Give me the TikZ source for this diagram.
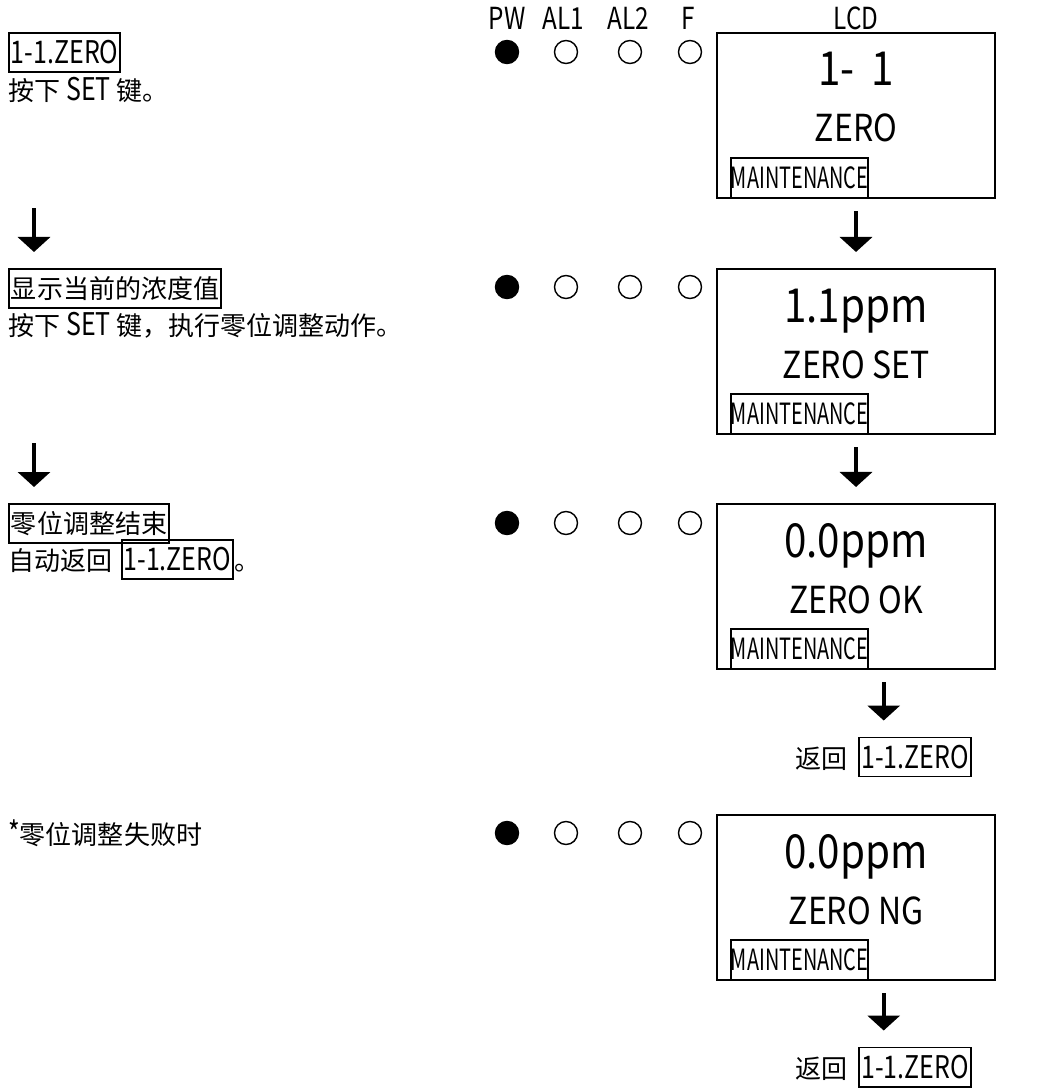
\documentclass[tikz,border=0pt]{standalone}
\usepackage{fontspec}
\setmainfont{Noto Sans CJK SC}
\newfontfamily\lat[Scale=1.2,FakeStretch=0.8]{Noto Sans CJK SC}
\newfontfamily\latn[Scale=1.3,FakeStretch=0.68]{Noto Sans CJK SC}
\newfontfamily\lcdfont[Scale=1.15,FakeStretch=0.86]{Noto Sans CJK SC}
\usetikzlibrary{arrows.meta,positioning,calc}

\begin{document}
\begin{tikzpicture}[
    x=0.025cm, y=-0.025cm,
    font=\fontsize{18.5pt}{22pt}\selectfont,
    lcd/.style={rectangle, draw, line width=1.4pt, minimum width=6.95cm, minimum height=4.125cm, anchor=north, inner sep=0pt},
    tag/.style={rectangle, draw, line width=1.4pt, minimum height=0.975cm, inner xsep=0.05cm, inner ysep=0pt},
    maint/.style={rectangle, draw, line width=1.4pt, minimum width=3.4cm, minimum height=1cm, inner sep=0pt, anchor=south west, font=\fontsize{16pt}{20pt}\selectfont\latn},
    lcdmain/.style={anchor=base, inner sep=0pt, font=\fontsize{29pt}{32pt}\selectfont\lcdfont},
    lcdsub/.style={anchor=base, inner sep=0pt, font=\fontsize{23pt}{26pt}\selectfont\lcdfont},
    ledhead/.style={inner sep=0pt, font=\fontsize{18pt}{20pt}\selectfont\lat},
    led/.style={circle, draw, line width=1pt, minimum size=0.575cm, inner sep=0pt},
    ledon/.style={led, fill=black},
    txt/.style={anchor=west, inner sep=0pt},
    arrow/.style={-{Triangle[width=0.8cm,length=0.375cm]}, line width=3pt},
    link/.style={arrow, shorten <=0.3cm, shorten >=0.4cm}
]
\useasboundingbox (0,0) rectangle (1042,1090);

% lamp and display headings
\node[ledhead] (hpw) at (507,18) {PW};
\node[ledhead] (hal1) at (563,18) {AL1};
\node[ledhead] (hal2) at (628,18) {AL2};
\node[ledhead] (hf) at (688,18) {F};
\node[ledhead] (hlcd) at (856,18) {LCD};

% step 1
\node[tag, anchor=north west] (title1) at (8,32) {\lat 1-1.ZERO};
\node[txt] (desc1) at (8,90) {按下 {\lat SET} 键。};
\node[ledon] (pw1) at (507,52) {};
\node[led] (al11) at (566,52) {};
\node[led] (al21) at (630,52) {};
\node[led] (f1) at (690,52) {};
\node[lcd] (lcd1) at (856,32) {};
\node[lcdmain] (val1) at ($(lcd1.north)+(0,54)$) {1-\, 1};
\node[lcdsub] (msg1) at ($(lcd1.north)+(0,110)$) {ZERO};
\node[maint] (mt1) at ($(lcd1.south west)+(14,0)$) {MAINTENANCE};

% step 2
\node[tag, anchor=north west] (title2) at (8,268) {显示当前的浓度值};
\node[txt] (desc2) at (8,325) {按下 {\lat SET} 键，执行零位调整动作。};
\node[ledon] (pw2) at (507,287) {};
\node[led] (al12) at (566,287) {};
\node[led] (al22) at (630,287) {};
\node[led] (f2) at (690,287) {};
\node[lcd] (lcd2) at (856,268) {};
\node[lcdmain] (val2) at ($(lcd2.north)+(0,54)$) {1.1ppm};
\node[lcdsub] (msg2) at ($(lcd2.north)+(0,110)$) {ZERO SET};
\node[maint] (mt2) at ($(lcd2.south west)+(14,0)$) {MAINTENANCE};

% step 3
\node[tag, anchor=north west] (title3) at (8,503) {零位调整结束};
\node[txt] (desc3) at (8,561) {自动返回};
\node[tag, anchor=base west] (ret3) at ($(desc3.base east)+(8,0)$) {\lat 1-1.ZERO};
\node[anchor=base west, inner sep=0pt] (end3) at (ret3.base east) {。};
\node[ledon] (pw3) at (507,523) {};
\node[led] (al13) at (566,523) {};
\node[led] (al23) at (630,523) {};
\node[led] (f3) at (690,523) {};
\node[lcd] (lcd3) at (856,503) {};
\node[lcdmain] (val3) at ($(lcd3.north)+(0,54)$) {0.0ppm};
\node[lcdsub] (msg3) at ($(lcd3.north)+(0,110)$) {ZERO OK};
\node[maint] (mt3) at ($(lcd3.south west)+(14,0)$) {MAINTENANCE};
\node[tag] (back1) at (915,757) {\lat 1-1.ZERO};
\node[anchor=base east, inner sep=0pt] (backlbl1) at ($(back1.base west)+(-10,0)$) {返回};

% failure case
\node[txt] (title4) at (8,833) {{\lat *}零位调整失败时};
\node[ledon] (pw4) at (507,833) {};
\node[led] (al14) at (566,833) {};
\node[led] (al24) at (630,833) {};
\node[led] (f4) at (690,833) {};
\node[lcd] (lcd4) at (856,814) {};
\node[lcdmain] (val4) at ($(lcd4.north)+(0,54)$) {0.0ppm};
\node[lcdsub] (msg4) at ($(lcd4.north)+(0,110)$) {ZERO NG};
\node[maint] (mt4) at ($(lcd4.south west)+(14,0)$) {MAINTENANCE};
\node[tag] (back2) at (915,1067) {\lat 1-1.ZERO};
\node[anchor=base east, inner sep=0pt] (backlbl2) at ($(back2.base west)+(-10,0)$) {返回};

\coordinate (mid3) at ($(backlbl1.west)!0.5!(back1.east)$);
\coordinate (mid4) at ($(backlbl2.west)!0.5!(back2.east)$);

\draw[arrow] ($(title2.north west)+(26,-60)$) -- ($(title2.north west)+(26,-16)$);
\draw[arrow] ($(title3.north west)+(26,-60)$) -- ($(title3.north west)+(26,-16)$);
\draw[link] (lcd1) -- (lcd2);
\draw[link] (lcd2) -- (lcd3);
\draw[link] (mid3 |- lcd3.south) -- (mid3 |- back1.north);
\draw[link] (mid4 |- lcd4.south) -- (mid4 |- back2.north);
\end{tikzpicture}
\end{document}
